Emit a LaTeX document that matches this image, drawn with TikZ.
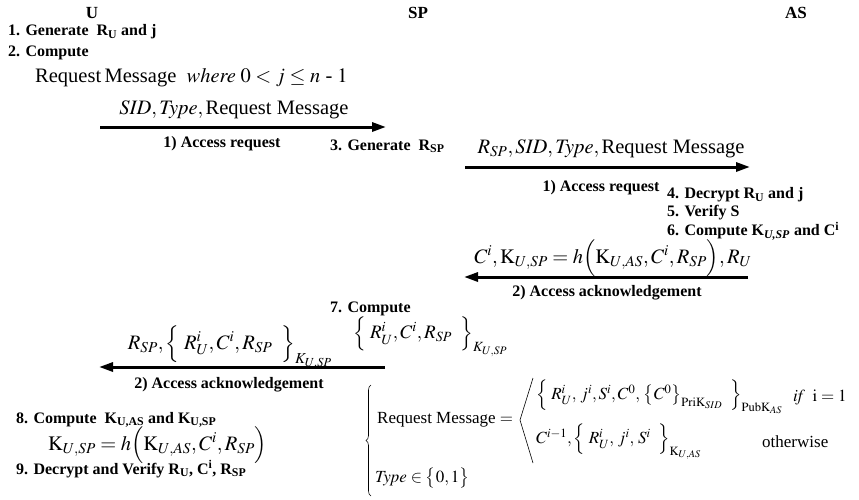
\documentclass[tikz,border=0pt]{standalone}
\usepackage{amsmath}
\usepackage{mathptmx}
\usepackage[no-math]{fontspec}
\setmainfont{Liberation Serif}
\usetikzlibrary{arrows.meta,decorations.pathreplacing}
\tikzset{
  lbl/.style={anchor=west, inner sep=0pt, font=\fontsize{16}{18}\selectfont\bfseries},
  hdr/.style={inner sep=0pt, font=\fontsize{17}{19}\selectfont\bfseries},
  msg/.style={inner sep=0pt, font=\fontsize{20.5}{24}\selectfont},
  fml/.style={inner sep=0pt, anchor=west, font=\fontsize{17}{20}\selectfont},
  flow/.style={line width=3pt, -{Triangle[length=14pt,width=9pt]}},
  thinline/.style={line width=0.6pt},
}
\begin{document}
\begin{tikzpicture}[x=1pt,y=-1pt]
\useasboundingbox (0,0) rectangle (859,499);
% headers
\node[hdr] (hU) at (92,13) {U};
\node[hdr] (hSP) at (418,13) {SP};
\node[hdr] (hAS) at (796,13) {AS};
% U side steps
\node[lbl] (s1) at (8,32) {1. Generate \ R\textsubscript{U} and j};
\node[lbl] (s2) at (8,53) {2. Compute};
\node[msg, anchor=west] (rm) at (35,78) {Request\,Message \ $\mathit{where}\; 0 < j \le n\text{ - }1$};
% arrow 1
\coordinate (a1s) at (100,127);
\coordinate (a1e) at (386,127);
\draw[flow] (a1s) -- (a1e);
\node[msg] (m1) at (234,110) {$\mathit{SID}, \mathit{Type}, \text{Request Message}$};
\node[lbl, anchor=center] (r1) at (222,144) {1) Access request};
\node[lbl] (s3) at (330,146) {3. Generate \ R\textsubscript{SP}};
% arrow 2
\coordinate (a2s) at (465,167);
\coordinate (a2e) at (750,167);
\draw[flow] (a2s) -- (a2e);
\node[msg] (m2) at (611,149) {$R_{SP}, \mathit{SID}, \mathit{Type}, \text{Request Message}$};
\node[lbl, anchor=center] (r2) at (601,188) {1) Access request};
\node[lbl] (s4) at (667,195) {4. Decrypt R\textsubscript{U} and j};
\node[lbl] (s5) at (667,213) {5. Verify S};
\node[lbl] (s6) at (667,231) {6. Compute K\textsubscript{\textit{U,SP}} and C\textsuperscript{i}};
% arrow 3
\coordinate (a3s) at (748,277);
\coordinate (a3e) at (464,277);
\draw[flow] (a3s) -- (a3e);
\node[msg] (m3) at (613,258) {$C^i, \mathrm{K}_{U,SP} = h\Bigl(\mathrm{K}_{U,AS}, C^i, R_{SP}\Bigr), R_U$};
\node[lbl, anchor=center] (k1) at (607,293) {2) Access acknowledgement};
% SP step 7
\node[lbl] (s7) at (330,309) {7. Compute};
\node[msg, anchor=west, font=\fontsize{19}{22}\selectfont] (m7) at (353,337) {$\Bigl\{\; R_U^i, C^i, R_{SP}\;\;\Bigr\}_{K_{U,SP}}$};
% arrow 4
\coordinate (a4s) at (385,367);
\coordinate (a4e) at (99,367);
\draw[flow] (a4s) -- (a4e);
\node[msg] (m4) at (230,347) {$R_{SP}, \Bigl\{\; R_U^i, C^i, R_{SP}\;\;\Bigr\}_{K_{U,SP}}$};
\node[lbl, anchor=center] (k2) at (229,385) {2) Access acknowledgement};
% U steps 8, 9
\node[lbl] (s8) at (16,420) {8. Compute \ K\textsubscript{U,AS} and K\textsubscript{U,SP}};
\node[msg, anchor=west] (m8) at (48,445) {$\mathrm{K}_{U,SP} = h\Bigl(\mathrm{K}_{U,AS}, C^i, R_{SP}\Bigr)$};
\node[lbl] (s9) at (16,469) {9. Decrypt and Verify R\textsubscript{U}, C\textsuperscript{i}, R\textsubscript{SP}};
% definitions
\coordinate (bt) at (371,385);
\coordinate (bb) at (371,496);
\draw[thinline, decorate, decoration={brace, amplitude=5pt}] (bb) -- (bt);
\node[fml] (d1) at (377,420) {Request Message $=$};
\coordinate (ang1) at (533,378);
\coordinate (ang2) at (520,420);
\coordinate (ang3) at (533,463);
\draw[thinline] (ang1) -- (ang2) -- (ang3);
\node[fml] (d2) at (536,397) {$\Bigl\{\; R_U^i,\, j^i, S^i, C^0,\, \bigl\{C^0\bigr\}_{\mathrm{PriK}_{SID}}\;\;\Bigr\}_{\mathrm{PubK}_{AS}}$};
\node[fml] (d3) at (793,397) {$\mathit{if}\;\;\mathrm{i} = 1$};
\node[fml] (d4) at (536,442) {$C^{i-1},\Bigl\{\; R_U^i,\, j^i,\, S^i\;\;\Bigr\}_{\mathrm{K}_{U,AS}}$};
\node[fml] (d5) at (762,442) {otherwise};
\node[fml] (d6) at (375,478) {$\mathit{Type} \in \bigl\{0,1\bigr\}$};
\end{tikzpicture}
\end{document}
